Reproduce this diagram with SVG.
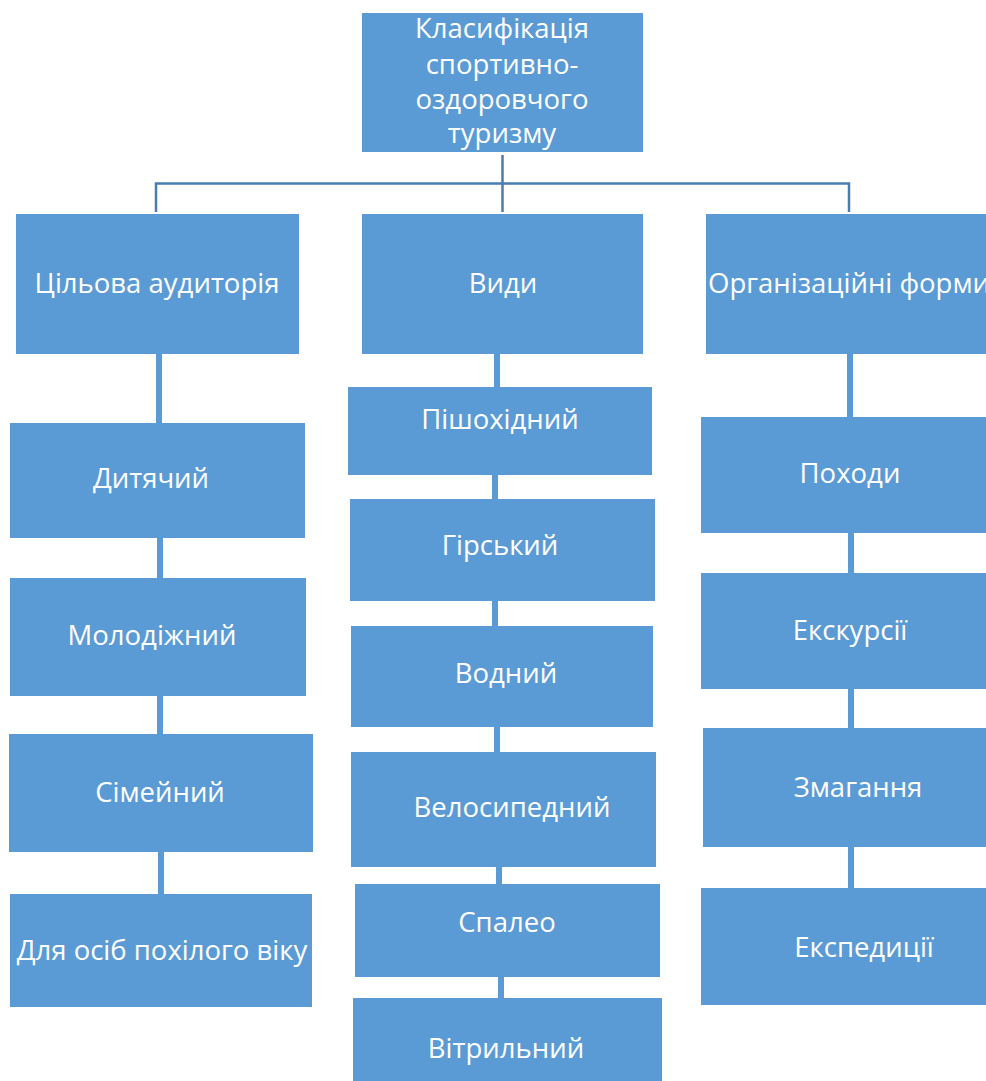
<svg xmlns="http://www.w3.org/2000/svg" width="986" height="1081" viewBox="0 0 986 1081">
<style>
.b{fill:#5B9BD5}
.t{fill:#FFFFFF;font-family:"Open Sans","Noto Sans",sans-serif;font-size:27.5px;text-anchor:middle}
.c{stroke:#5B9BD5;stroke-width:6;fill:none}
.h{stroke:#4A7EB3;stroke-width:2.5;fill:none}
</style>
<rect width="986" height="1081" fill="#FFFFFF"/>
<g id="connectors">
<path class="h" d="M502.5 155V212M156 212V183.5H849V212"/>
<path class="c" d="M159 354V423M160 538V578M160 696V734M161 852V894"/>
<path class="c" d="M497 354V387M495 475V499M495 601V626M497 727V752M499 867V884M501 977V998"/>
<path class="c" d="M850 354V417M851 533V573M851 689V729M851 847V888"/>
</g>
<g id="root"><rect class="b" x="362" y="13" width="281" height="139"/>
<text class="t" x="502" y="38">Класифікація</text>
<text class="t" x="502" y="74">спортивно-</text>
<text class="t" x="502" y="109">оздоровчого</text>
<text class="t" x="502" y="143">туризму</text></g>
<g id="audience"><rect class="b" x="16" y="214" width="283" height="140"/><text class="t" x="157" y="293">Цільова аудиторія</text></g>
<g id="types"><rect class="b" x="362" y="214" width="281" height="140"/><text class="t" x="503" y="293">Види</text></g>
<g id="forms"><rect class="b" x="706" y="214" width="290" height="140"/><text class="t" x="708" y="293" style="text-anchor:start">Організаційні форми</text></g>
<g id="a1"><rect class="b" x="10" y="423" width="295" height="115"/><text class="t" x="151" y="488">Дитячий</text></g>
<g id="a2"><rect class="b" x="10" y="578" width="296" height="118"/><text class="t" x="152" y="645">Молодіжний</text></g>
<g id="a3"><rect class="b" x="9" y="734" width="304" height="118"/><text class="t" x="160" y="802">Сімейний</text></g>
<g id="a4"><rect class="b" x="10" y="894" width="302" height="113"/><text class="t" x="162" y="960">Для осіб похілого віку</text></g>
<g id="t1"><rect class="b" x="348" y="387" width="304" height="88"/><text class="t" x="500" y="429">Пішохідний</text></g>
<g id="t2"><rect class="b" x="350" y="499" width="305" height="102"/><text class="t" x="500" y="555">Гірський</text></g>
<g id="t3"><rect class="b" x="351" y="626" width="302" height="101"/><text class="t" x="506" y="683">Водний</text></g>
<g id="t4"><rect class="b" x="351" y="752" width="305" height="115"/><text class="t" x="512" y="817">Велосипедний</text></g>
<g id="t5"><rect class="b" x="355" y="884" width="305" height="93"/><text class="t" x="507" y="932">Спалео</text></g>
<g id="t6"><rect class="b" x="353" y="998" width="309" height="83"/><text class="t" x="506" y="1058">Вітрильний</text></g>
<g id="f1"><rect class="b" x="701" y="417" width="285" height="116"/><text class="t" x="850" y="483">Походи</text></g>
<g id="f2"><rect class="b" x="701" y="573" width="285" height="116"/><text class="t" x="850" y="640">Екскурсії</text></g>
<g id="f3"><rect class="b" x="703" y="728" width="283" height="119"/><text class="t" x="858" y="797">Змагання</text></g>
<g id="f4"><rect class="b" x="701" y="888" width="285" height="117"/><text class="t" x="864" y="957">Експедиції</text></g>
</svg>
